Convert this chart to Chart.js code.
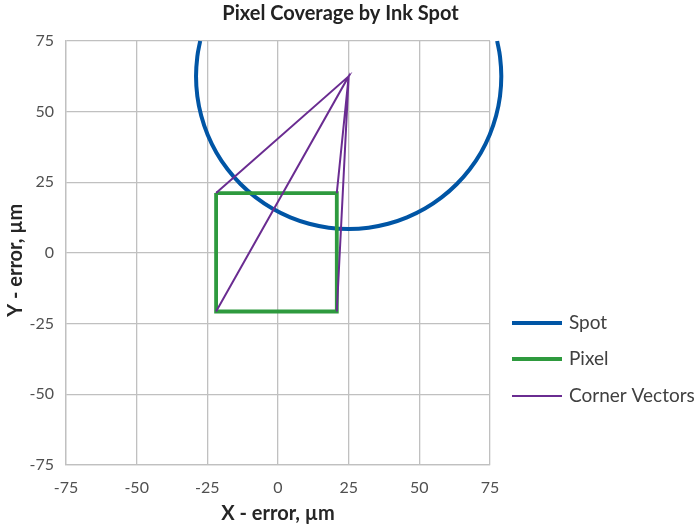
<!DOCTYPE html>
<html>
<head>
<meta charset="utf-8">
<script src="https://cdn.jsdelivr.net/npm/chart.js@4/dist/chart.umd.min.js"></script>
<style>
  html, body { margin: 0; padding: 0; background: #fff; }
  #wrap { width: 697px; height: 527px; }
</style>
</head>
<body>
<div id="wrap"><canvas id="chart"></canvas></div>
<script>
// values (µm)
const spotX = [-27.53, -28.54, -29, -28.54, -27.16, -24.89, -21.77, -17.84, -13.18, -7.87, -2, 4.34, 11.02, 17.95, 25,
  32.05, 38.98, 45.66, 52, 57.87, 63.18, 67.84, 71.77, 74.89, 77.16, 78.54, 79, 78.54, 77.53];
const spotY = [75, 69.55, 62.5, 55.45, 48.52, 41.84, 35.5, 29.63, 24.32, 19.66, 15.73, 12.61, 10.34, 8.96, 8.5,
  8.96, 10.34, 12.61, 15.73, 19.66, 24.32, 29.63, 35.5, 41.84, 48.52, 55.45, 62.5, 69.55, 75];

const pixelX = [-21.9, 20.8, 20.8, -21.9, -21.9];
const pixelY = [21.2, 21.2, -20.7, -20.7, 21.2];

// top-left, apex, bottom-left, apex, bottom-right, apex, top-right
const vectorX = [-21.9, 25, -21.9, 25, 20.8, 25, 20.8];
const vectorY = [21.2, 62.5, -20.7, 62.5, -20.7, 62.5, 21.2];

const axisTicks = [-75, -50, -25, 0, 25, 50, 75];

function toPoints(xs, ys) {
  return xs.map((x, i) => ({ x: x, y: ys[i] }));
}

const FONT = 'Lato';

// legend drawn at the right, below middle, like the reference
const sideLegend = {
  id: 'sideLegend',
  afterDraw(chart) {
    const ctx = chart.ctx;
    const rows = [323, 359, 396];
    ctx.save();
    chart.data.datasets.forEach((ds, i) => {
      const y = rows[i];
      ctx.strokeStyle = ds.borderColor;
      ctx.lineWidth = ds.borderWidth;
      ctx.beginPath();
      ctx.moveTo(512, y);
      ctx.lineTo(562, y);
      ctx.stroke();
      ctx.fillStyle = '#404040';
      ctx.font = '19px ' + FONT;
      ctx.textBaseline = 'middle';
      ctx.fillText(ds.label, 569, y);
    });
    ctx.restore();
  }
};

new Chart(document.getElementById('chart'), {
  type: 'scatter',
  data: {
    datasets: [
      {
        label: 'Spot',
        data: toPoints(spotX, spotY),
        showLine: true,
        borderColor: '#0055A5',
        borderWidth: 4,
        pointRadius: 0,
        tension: 0.4,
        clip: false,
        order: 3
      },
      {
        label: 'Pixel',
        data: toPoints(pixelX, pixelY),
        showLine: true,
        borderColor: '#2E9A3E',
        borderWidth: 3.8,
        pointRadius: 0,
        tension: 0,
        order: 2
      },
      {
        label: 'Corner Vectors',
        data: toPoints(vectorX, vectorY),
        showLine: true,
        borderColor: '#6A2C91',
        borderWidth: 2,
        pointRadius: 0,
        tension: 0,
        order: 1
      }
    ]
  },
  options: {
    responsive: true,
    maintainAspectRatio: false,
    animation: false,
    layout: { padding: { left: 0, right: 16, top: 0, bottom: 0 } },
    plugins: {
      legend: { display: false },
      tooltip: { enabled: false },
      title: {
        display: true,
        text: 'Pixel Coverage by Ink Spot',
        color: '#222',
        font: { family: FONT, size: 20, weight: 'bold' },
        padding: { top: 2, bottom: 15 }
      }
    },
    scales: {
      x: {
        type: 'linear',
        min: -75,
        max: 75,
        afterBuildTicks: s => { s.ticks = axisTicks.map(v => ({ value: v })); },
        afterFit: s => { s.height = 62; },
        grid: { color: '#C0C0C0', lineWidth: 1.3, drawTicks: false },
        border: { color: '#C0C0C0', width: 1.3 },
        ticks: { color: '#505050', font: { family: FONT, size: 16 }, padding: 13, maxRotation: 0 },
        title: {
          display: true,
          text: 'X - error, µm',
          color: '#262626',
          font: { family: FONT, size: 20, weight: 'bold' },
          padding: { top: 0, bottom: 1 }
        }
      },
      y: {
        type: 'linear',
        min: -75,
        max: 75,
        afterBuildTicks: s => { s.ticks = axisTicks.map(v => ({ value: v })); },
        afterFit: s => { s.width = 66; },
        grid: { color: '#C0C0C0', lineWidth: 1.3, drawTicks: false },
        border: { color: '#C0C0C0', width: 1.3 },
        ticks: { color: '#505050', font: { family: FONT, size: 16 }, padding: 12 },
        title: {
          display: true,
          text: 'Y - error, µm   ',
          color: '#262626',
          font: { family: FONT, size: 20, weight: 'bold' },
          padding: { top: 4, bottom: 0 }
        }
      },
      // empty right-hand box that leaves room for the legend
      side: {
        type: 'linear',
        position: 'right',
        display: true,
        afterFit: s => { s.width = 191; },
        grid: { display: false, drawTicks: false },
        border: { display: false },
        ticks: { display: false }
      }
    }
  },
  plugins: [sideLegend]
});
</script>
</body>
</html>
